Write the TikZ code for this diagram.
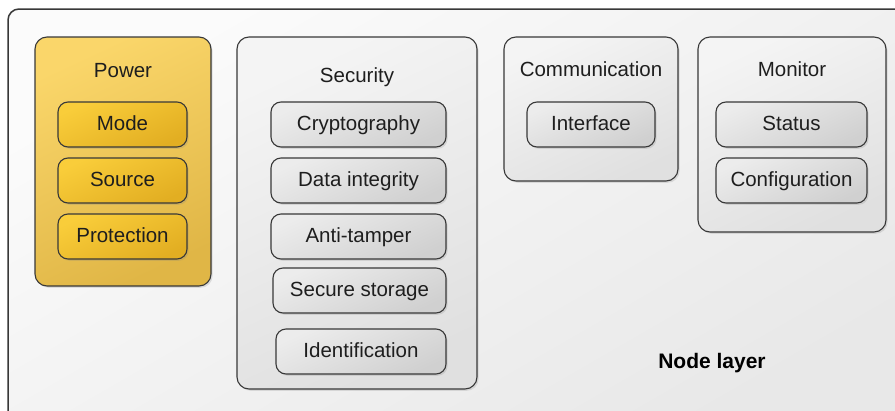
\documentclass[tikz,border=0pt]{standalone}
\usepackage{fontspec}
\setmainfont{Liberation Sans}
\usetikzlibrary{shadows}

\definecolor{framebg1}{HTML}{FBFBFB}
\definecolor{framebg2}{HTML}{E8E8E8}
\definecolor{grayhi}{HTML}{F4F4F4}
\definecolor{graylo}{HTML}{E0E0E0}
\definecolor{cellhi}{HTML}{ECECEC}
\definecolor{celllo}{HTML}{D0D0D0}
\definecolor{goldhi}{HTML}{FAD66A}
\definecolor{goldlo}{HTML}{E0B646}
\definecolor{goldcellhi}{HTML}{F9CD3A}
\definecolor{goldcelllo}{HTML}{E2AE22}
\definecolor{edge}{HTML}{383838}
\definecolor{ink}{HTML}{1E1E1E}

\tikzset{
  softshadow/.style={drop shadow={opacity=0.22, shadow xshift=1.6pt, shadow yshift=-1.8pt}},
  group/.style={draw=edge, line width=1.1pt, rounded corners=12pt, softshadow,
    top color=grayhi, bottom color=graylo, shading angle=25,
    inner sep=0pt, minimum height=#1},
  goldgroup/.style={group=#1, top color=goldhi, bottom color=goldlo, shading angle=25},
  cell/.style={draw=edge, line width=1.1pt, rounded corners=10pt, softshadow,
    top color=cellhi, bottom color=celllo, shading angle=25,
    minimum height=45pt, inner sep=0pt, text height=15pt, text depth=4pt,
    text=ink, font=\fontsize{20.5}{24}\selectfont},
  goldcell/.style={cell, top color=goldcellhi, bottom color=goldcelllo, shading angle=25},
  heading/.style={anchor=base, text=ink, inner sep=0pt, font=\fontsize{20.5}{24}\selectfont},
}

\begin{document}
\begin{tikzpicture}[x=1pt, y=-1pt]
  \useasboundingbox (0,0) rectangle (895,410);
  \clip (0,0) rectangle (895,410);

  % outer layer frame
  \shade[draw=edge, line width=1.5pt, rounded corners=11pt,
    top color=framebg1, bottom color=framebg2, shading angle=30]
    (8,9) rectangle (915,430);

  % Power group
  \node[goldgroup=249pt, minimum width=176pt] (power) at (123,161.5) {};
  \node[heading] (powerT) at (123,77) {Power};
  \node[goldcell, minimum width=129pt] (mode) at (122.5,124.5) {Mode};
  \node[goldcell, minimum width=129pt] (source) at (122.5,180.5) {Source};
  \node[goldcell, minimum width=129pt] (protection) at (122.5,236.5) {Protection};

  % Security group
  \node[group=352pt, minimum width=240pt] (security) at (357,213) {};
  \node[heading] (securityT) at (357,82) {Security};
  \node[cell, minimum width=175pt] (crypto) at (358.5,124.5) {Cryptography};
  \node[cell, minimum width=175pt] (integrity) at (358.5,180.5) {Data integrity};
  \node[cell, minimum width=175pt] (tamper) at (358.5,236.5) {Anti-tamper};
  \node[cell, minimum width=173pt] (storage) at (359.5,290.5) {Secure storage};
  \node[cell, minimum width=170pt] (ident) at (361,351.5) {Identification};

  % Communication group
  \node[group=144pt, minimum width=174pt] (comm) at (591,109) {};
  \node[heading] (commT) at (591,76) {Communication};
  \node[cell, minimum width=128pt] (iface) at (591,124.5) {Interface};

  % Monitor group
  \node[group=195pt, minimum width=188pt] (monitor) at (792,134.5) {};
  \node[heading] (monitorT) at (792,76) {Monitor};
  \node[cell, minimum width=151pt] (status) at (791.5,124.5) {Status};
  \node[cell, minimum width=151pt] (config) at (791.5,180.5) {Configuration};

  % layer caption
  \node[heading, font=\fontsize{21}{25}\selectfont\bfseries, text=black] (layer) at (712,368) {Node layer};
\end{tikzpicture}
\end{document}
